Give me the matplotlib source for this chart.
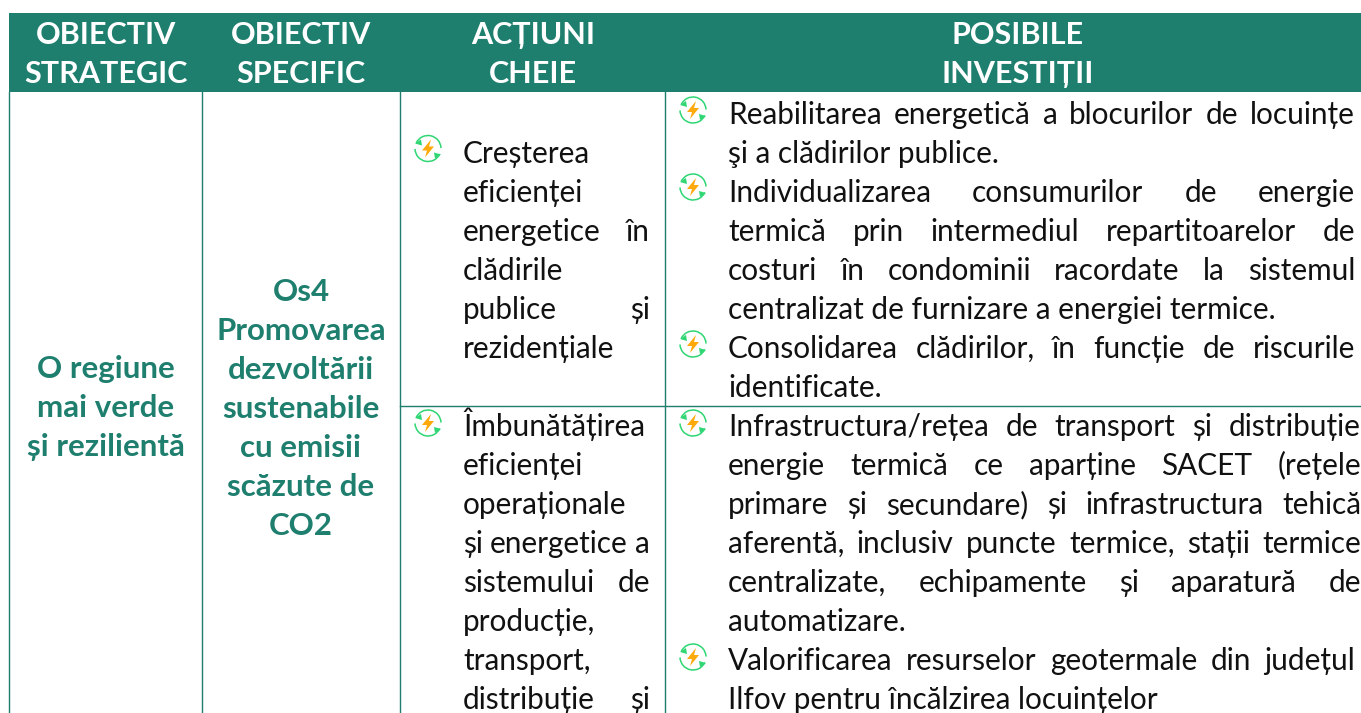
# -*- coding: utf-8 -*-
import matplotlib
matplotlib.use('Agg')
import matplotlib.pyplot as plt
from matplotlib.patches import Rectangle, Arc, Polygon

W, H = 1361, 713
TEAL = '#1f7f6f'
FONT = ['Lato', 'Noto Sans', 'DejaVu Sans']
FS = 21.4
FS_HEAD = 22
FS_BOLD = 22.5

########################################
# table content

headers = [['OBIECTIV', 'STRATEGIC'], ['OBIECTIV', 'SPECIFIC'], ['ACȚIUNI', 'CHEIE'], ['POSIBILE', 'INVESTIȚII']]
strategic = ['O regiune', 'mai verde', 'și rezilientă']
specific = ['Os4', 'Promovarea', 'dezvoltării', 'sustenabile', 'cu emisii', 'scăzute de', 'CO2']

actions_1 = ['Creșterea', 'eficienței', 'energetice în', 'clădirile', 'publice și', 'rezidențiale']
actions_1_just = [False, False, True, False, True, False]
actions_2 = ['Îmbunătățirea', 'eficienței', 'operaționale', 'și energetice a', 'sistemului de',
             'producție,', 'transport,', 'distribuție și']
actions_2_just = [True, False, False, True, True, False, False, True]

invest_1 = ['Reabilitarea energetică a blocurilor de locuințe',
            'şi a clădirilor publice.',
            'Individualizarea consumurilor de energie',
            'termică prin intermediul repartitoarelor de',
            'costuri în condominii racordate la sistemul',
            'centralizat de furnizare a energiei termice.',
            'Consolidarea clădirilor, în funcție de riscurile',
            'identificate.']
invest_1_just = [True, False, True, True, True, False, True, False]
invest_2 = ['Infrastructura/rețea de transport și distribuție',
            'energie termică ce aparține SACET (rețele',
            'primare și secundare) și infrastructura tehică',
            'aferentă, inclusiv puncte termice, stații termice',
            'centralizate, echipamente și aparatură de',
            'automatizare.',
            'Valorificarea resurselor geotermale din județul',
            'Ilfov pentru încălzirea locuințelor']
invest_2_just = [True, True, True, True, True, False, True, False]

########################################
# drawing helpers

def draw_centered(ax, lines, x, y0, color, size=FS_BOLD, weight='bold'):
    for i, line in enumerate(lines):
        ax.text(x, y0 + i*39, line, ha='center', va='baseline', color=color,
                fontsize=size, fontweight=weight, family=FONT)


def draw_lines(ax, lines, just, x0, x1, y0, ends=None):
    # justified lines are placed word by word, like the word processor does
    rend = ax.figure.canvas.get_renderer()
    for i, line in enumerate(lines):
        y = y0 + i*39
        if not just[i]:
            ax.text(x0, y, line, va='baseline', color='#111111', fontsize=FS, family=FONT)
            continue
        right = x1 if ends is None else ends[i]
        words = [ax.text(x0, y, w, va='baseline', color='#111111', fontsize=FS, family=FONT)
                 for w in line.split()]
        widths = [t.get_window_extent(rend).width for t in words]
        gap = (right - x0 - sum(widths))/max(len(words) - 1, 1)
        x = x0
        for t, w in zip(words, widths):
            t.set_x(x)
            x += w + gap


def draw_icon(ax, cx, cy):
    # round arrows with a lightning bolt, y axis is flipped so angles run clockwise
    green = '#2fd673'
    ax.add_patch(Arc((cx, cy), 26, 26, theta1=205, theta2=358, color=green, lw=1.1))
    ax.add_patch(Arc((cx, cy), 26, 26, theta1=25, theta2=178, color=green, lw=1.1))
    ax.add_patch(Polygon([(cx-13, cy-5), (cx-7, cy-9), (cx-6, cy-3)], color=green, lw=0))
    ax.add_patch(Polygon([(cx+13, cy+6), (cx+7, cy+10), (cx+6, cy+4)], color=green, lw=0))
    ax.add_patch(Polygon([(cx+3, cy-9), (cx-6, cy+2), (cx-1, cy+2), (cx-3, cy+9),
                          (cx+6, cy-2), (cx+1, cy-2)], color='#ffa90a', lw=0))

########################################

fig = plt.figure(figsize=(W/100, H/100), dpi=100)
ax = fig.add_axes([0, 0, 1, 1])
ax.set_xlim(0, W)
ax.set_ylim(H, 0)
ax.axis('off')

# grid
ax.add_patch(Rectangle((9, 13), W - 9, 79, color=TEAL, lw=0))
for x in [9.5, 202.5, 400.5, 665.5]:
    ax.plot([x, x], [92, H], color=TEAL, lw=1)
ax.plot([400, W], [405.5, 405.5], color=TEAL, lw=1)

# header
for cols, x in zip(headers, [106, 301, 533, 1018]):
    draw_centered(ax, cols, x, 44, 'white', size=FS_HEAD)

draw_centered(ax, strategic, 106, 378, TEAL)
draw_centered(ax, specific, 301, 301, TEAL)

draw_lines(ax, actions_1, actions_1_just, 463, 650, 163)
draw_lines(ax, actions_2, actions_2_just, 463, 650, 436)
draw_lines(ax, invest_1, invest_1_just, 728, 1355, 124)
draw_lines(ax, invest_2, invest_2_just, 728, 1361, 436,
           ends=[1361, 1361, 1361, 1361, 1361, 1361, 1355, 1355])

for x, y in [(428, 148.5), (428, 423), (693, 110), (693, 187), (693, 344), (693, 423), (693, 657)]:
    draw_icon(ax, x, y)

fig.savefig('out.png', dpi=100)
